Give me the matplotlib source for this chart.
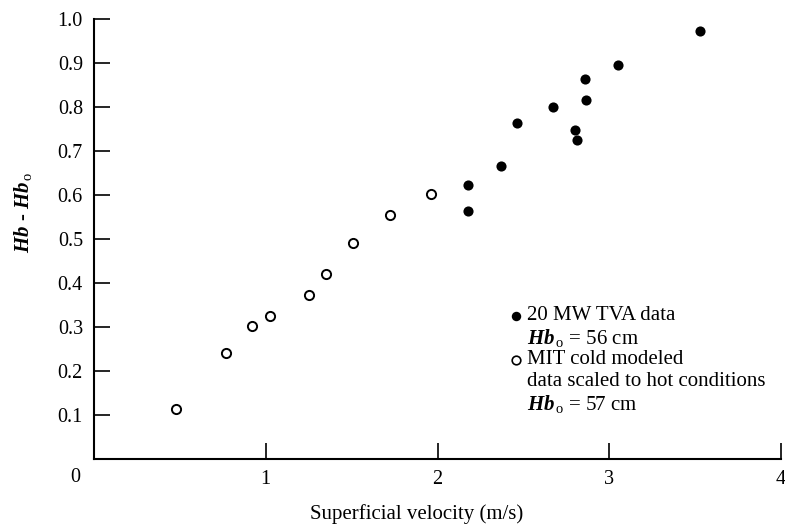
import matplotlib
matplotlib.use("Agg")
import matplotlib.pyplot as plt

plt.rcParams['font.family'] = ['Liberation Serif', 'DejaVu Serif']
plt.rcParams['mathtext.fontset'] = 'custom'
plt.rcParams['mathtext.rm'] = 'Liberation Serif'
plt.rcParams['mathtext.it'] = 'Liberation Serif:italic:bold'
plt.rcParams['mathtext.bf'] = 'Liberation Serif:bold'

# Data
tva_velocity = [3.53, 3.05, 2.86, 2.865, 2.675, 2.46, 2.80, 2.81, 2.37, 2.18, 2.175]
tva_height = [0.973, 0.896, 0.863, 0.816, 0.80, 0.763, 0.747, 0.724, 0.667, 0.622, 0.563]
mit_velocity = [0.48, 0.77, 0.92, 1.026, 1.25, 1.35, 1.51, 1.725, 1.96]
mit_height = [0.114, 0.242, 0.303, 0.326, 0.372, 0.42, 0.492, 0.554, 0.603]
x_ticks = [1, 2, 3, 4]
y_ticks = [0.1, 0.2, 0.3, 0.4, 0.5, 0.6, 0.7, 0.8, 0.9, 1.0]
y_ticklabels = ['0.1', '0.2', '0.3', '0.4', '0.5', '0.6', '0.7', '0.8', '0.9', '1.0']
legend_lines = [
    ('filled', '20 MW TVA data'),
    (None, r'$Hb_{\,\mathrm{o}}$ = 56 cm'),
    ('open', 'MIT cold modeled'),
    (None, 'data scaled to hot conditions'),
    (None, r'$Hb_{\,\mathrm{o}}$ = 57 cm'),
]

fig = plt.figure(figsize=(7.85, 5.27), dpi=100)
ax = fig.add_axes([94/785, 68/527, 687/785, 440/527])

ax.plot(tva_velocity, tva_height, 'o', color='black', markersize=7.3,
        markeredgewidth=0, clip_on=False)
ax.plot(mit_velocity, mit_height, 'o', markerfacecolor='white',
        markeredgecolor='black', markersize=6.6, markeredgewidth=1.4, clip_on=False)

ax.set_xlim(0, 4)
ax.set_ylim(0, 1.0)
ax.spines['top'].set_visible(False)
ax.spines['right'].set_visible(False)
for s in ['left', 'bottom']:
    ax.spines[s].set_linewidth(1.5)

ax.set_xticks(x_ticks)
ax.set_xticklabels([str(t) for t in x_ticks])
ax.set_yticks(y_ticks)
ax.set_yticklabels(y_ticklabels)
ax.tick_params(direction='in', length=11.5, width=1.2, labelsize=14.5, colors='black')
ax.tick_params(axis='x', pad=8)
ax.tick_params(axis='y', pad=8)

ax.text(-0.028, -0.042, '0', transform=ax.transAxes, ha='center', va='center', fontsize=14.5)

ax.set_xlabel('Superficial velocity (m/s)', fontsize=15, va='top')
ax.xaxis.set_label_coords(0.47, -0.103)
ax.set_ylabel(r'$Hb$ - $Hb_{\,\mathrm{o}}$', fontsize=15)
ax.yaxis.set_label_coords(-0.088, 0.56)

# legend (manual)
marker_x = (516 - 94) / 687
text_x = (527 - 94) / 687
row_y = [316, 338, 360, 382, 404]
for (mk, txt), py in zip(legend_lines, row_y):
    yy = (459 - py) / 440
    if mk == 'filled':
        ax.plot([marker_x], [yy], 'o', color='black', markersize=6.8,
                markeredgewidth=0, transform=ax.transAxes, clip_on=False)
    elif mk == 'open':
        ax.plot([marker_x], [yy], 'o', markerfacecolor='white', markeredgecolor='black',
                markersize=6.2, markeredgewidth=1.2, transform=ax.transAxes, clip_on=False)
    ax.text(text_x, yy, txt, transform=ax.transAxes, ha='left', va='center', fontsize=15)

fig.savefig('out.png', dpi=100)
